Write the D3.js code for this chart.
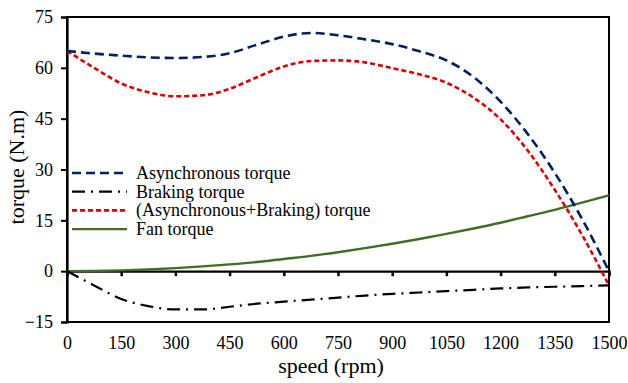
<!DOCTYPE html>
<html>
<head>
<meta charset="utf-8">
<script src="https://cdn.jsdelivr.net/npm/d3@7"></script>
<style>
  html, body { margin: 0; padding: 0; background: #fff; }
</style>
</head>
<body>
<div id="chart"></div>
<script>
// speed points (rpm)
const speed = [0, 75, 150, 225, 300, 375, 450, 525, 600, 675, 750, 825, 900, 975, 1050, 1125, 1200, 1275, 1350, 1425, 1500];

const asyncTorque = [65.0, 64.2, 63.6, 63.1, 62.9, 63.2, 64.3, 66.8, 69.2, 70.3, 69.6, 68.4, 67.0, 64.9, 62.2, 57.3, 50.0, 40.5, 29.0, 15.5, 0];
const brakingTorque = [0, -4.2, -8.2, -10.3, -11.3, -11.3, -10.5, -9.6, -9.0, -8.4, -7.8, -7.2, -6.7, -6.3, -5.9, -5.5, -5.1, -4.8, -4.6, -4.4, -4.2];
const sumTorque = [65.0, 60.0, 55.4, 52.8, 51.6, 51.9, 53.8, 57.2, 60.4, 62.0, 62.2, 61.6, 59.9, 58.1, 55.6, 51.2, 44.8, 35.6, 24.0, 10.8, -4.2];
const fanTorque = [0, 0.06, 0.22, 0.5, 0.9, 1.4, 2.0, 2.7, 3.6, 4.5, 5.6, 6.8, 8.1, 9.5, 11.0, 12.6, 14.3, 16.2, 18.1, 20.2, 22.4];

const xTicks = [0, 150, 300, 450, 600, 750, 900, 1050, 1200, 1350, 1500];
const yTicks = [-15, 0, 15, 30, 45, 60, 75];

const series = [
  { name: 'Asynchronous torque', values: asyncTorque, color: '#002060', dash: '9,5', width: 2.6 },
  { name: 'Braking torque', values: brakingTorque, color: '#000000', dash: '13,6,2,6', width: 2.2 },
  { name: '(Asynchronous+Braking) torque', values: sumTorque, color: '#d90000', dash: '5,3', width: 2.6 },
  { name: 'Fan torque', values: fanTorque, color: '#3f6e24', dash: null, width: 2.4 }
];

const FONT = '"Liberation Serif", "Times New Roman", "DejaVu Serif", serif';

const width = 628, height = 383;
const margin = { top: 17, right: 19, bottom: 61, left: 67 };
const w = width - margin.left - margin.right;
const h = height - margin.top - margin.bottom;

const svg = d3.select('#chart').append('svg')
  .attr('width', width)
  .attr('height', height);

const g = svg.append('g')
  .attr('transform', `translate(${margin.left},${margin.top})`);

const x = d3.scaleLinear().domain([0, 1500]).range([0, w]);
const y = d3.scaleLinear().domain([-15, 75]).range([h, 0]);

// frame (top, right, bottom)
g.append('rect')
  .attr('width', w)
  .attr('height', h)
  .attr('fill', 'none')
  .attr('stroke', '#000')
  .attr('stroke-width', 2);

// y axis
const yAxis = d3.axisLeft(y).tickValues(yTicks).tickSize(6).tickPadding(8);
const yg = g.append('g').call(yAxis);
yg.select('.domain').attr('stroke-width', 2.2);
yg.selectAll('.tick line').attr('stroke-width', 2);
yg.selectAll('text')
  .style('font-family', FONT)
  .style('font-size', '18px')
  .attr('fill', '#000');

// x axis along zero line, ticks pointing down
const xAxis = d3.axisBottom(x).tickValues(xTicks).tickSize(5).tickFormat(d3.format('d'));
const xg = g.append('g')
  .attr('transform', `translate(0,${y(0)})`)
  .call(xAxis);
xg.select('.domain').attr('stroke-width', 2.2);
xg.selectAll('.tick line').attr('stroke-width', 2.5);
xg.selectAll('text')
  .attr('y', h - y(0) + 14)
  .style('font-family', FONT)
  .style('font-size', '18px')
  .attr('fill', '#000');

// curves
const line = d3.line()
  .x((d, i) => x(speed[i]))
  .y(d => y(d))
  .curve(d3.curveMonotoneX);

const drawOrder = [3, 1, 2, 0];
drawOrder.forEach(k => {
  const s = series[k];
  g.append('path')
    .datum(s.values)
    .attr('fill', 'none')
    .attr('stroke', s.color)
    .attr('stroke-width', s.width)
    .attr('stroke-dasharray', s.dash)
    .attr('d', line);
});

// legend
const legend = g.append('g').attr('transform', 'translate(5,156)');
series.forEach((s, i) => {
  const row = legend.append('g').attr('transform', `translate(0,${i * 18.7})`);
  row.append('line')
    .attr('x1', 0).attr('x2', 55)
    .attr('stroke', s.color)
    .attr('stroke-width', s.width)
    .attr('stroke-dasharray', s.dash);
  row.append('text')
    .attr('x', 64)
    .attr('dy', '0.33em')
    .style('font-family', FONT)
    .style('font-size', '18px')
    .attr('fill', '#000')
    .text(s.name);
});

// axis titles
svg.append('text')
  .attr('x', 331)
  .attr('y', 373)
  .attr('text-anchor', 'middle')
  .style('font-family', FONT)
  .style('font-size', '22px')
  .attr('fill', '#000')
  .text('speed (rpm)');

svg.append('text')
  .attr('transform', 'translate(24,167) rotate(-90)')
  .attr('text-anchor', 'middle')
  .style('font-family', FONT)
  .style('font-size', '22px')
  .attr('fill', '#000')
  .text('torque (N.m)');
</script>
</body>
</html>
